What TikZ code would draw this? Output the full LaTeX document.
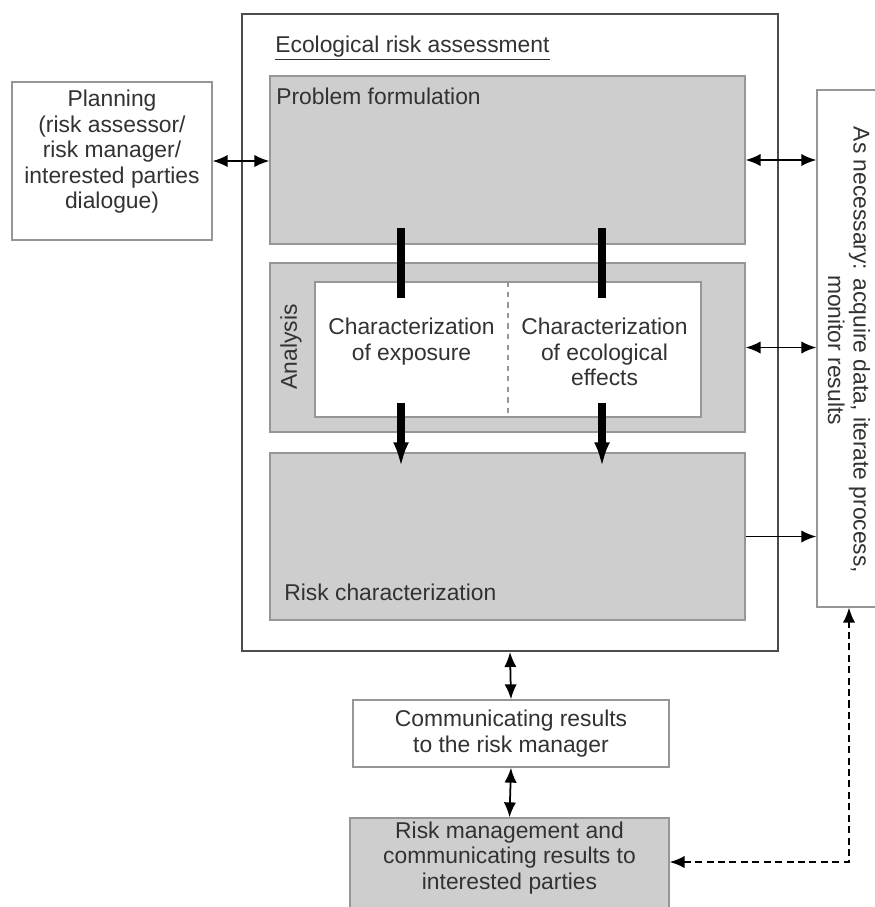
\documentclass[tikz,border=0pt]{standalone}
\usepackage{fontspec}
\setmainfont{Liberation Sans}
\usepackage{xcolor}
\usetikzlibrary{arrows.meta, calc, positioning}
\definecolor{boxgray}{RGB}{206,206,206}
\definecolor{edgegray}{RGB}{150,150,150}
\definecolor{inkgray}{RGB}{50,50,50}

\begin{document}
\begin{tikzpicture}[x=0.02cm,y=-0.02cm,
    every node/.style={font=\fontsize{13}{14.5}\selectfont,text=inkgray,inner sep=0pt},
    graybox/.style={draw=edgegray,fill=boxgray,line width=0.8pt},
    whitebox/.style={draw=edgegray,fill=white,line width=0.8pt},
    dbl/.style={{Latex[length=8.5pt,width=7pt]}-{Latex[length=8.5pt,width=7pt]},line width=1pt},
    sgl/.style={-{Latex[length=8.5pt,width=7pt]},line width=1pt},
    bar/.style={line width=4pt},
    bararrow/.style={-{Latex[length=14pt,width=9pt]},line width=4pt}]
    \useasboundingbox (0,0) rectangle (875,907);

    % outer frame and the three stages
    \node[draw=black!70,line width=1.3pt,minimum width=10.72cm,minimum height=12.74cm] (era) at (510,332.5) {};
    \node[anchor=base west] (eratitle) at (275,52) {\underline{Ecological risk assessment}};

    \node[graybox,minimum width=9.5cm,minimum height=3.36cm] (prob) at (507.5,160) {};
    \node[anchor=base west] (problbl) at (276,104) {Problem formulation};

    \node[graybox,minimum width=9.5cm,minimum height=3.38cm] (ana) at (507.5,347.5) {};
    \node[rotate=90] (analbl) at (291,347) {Analysis};
    \node[whitebox,minimum width=7.72cm,minimum height=2.7cm] (charbox) at (508,349.5) {};
    \draw[dashed,edgegray,line width=0.8pt] (charbox.north) -- (charbox.south);
    \node[anchor=north,align=center] (expo) at (411.5,318) {Characterization\\of exposure};
    \node[anchor=north,align=center] (effects) at (604.5,318) {Characterization\\of ecological\\effects};

    \node[graybox,minimum width=9.5cm,minimum height=3.34cm] (riskc) at (507.5,536.5) {};
    \node[anchor=base west] (riskclbl) at (284,600) {Risk characterization};

    % boxes outside the frame
    \node[whitebox,minimum width=4cm,minimum height=3.16cm] (plan) at (112,161) {};
    \node[align=center] (planlbl) at (112,152) {Planning\\(risk assessor/\\risk manager/\\interested parties\\dialogue)};

    \node[whitebox,minimum width=1.56cm,minimum height=10.34cm] (side) at (856,348.5) {};
    \node[rotate=-90,align=center] (sidelbl) at (849,350) {As necessary: acquire data, iterate process,\\monitor results};

    \node[whitebox,minimum width=6.32cm,minimum height=1.34cm,align=center] (comm) at (511,733.5) {Communicating results\\to the risk manager};

    \node[graybox,minimum width=6.38cm,minimum height=1.94cm] (mgmt) at (509.5,866.5) {};
    \node[align=center] (mgmtlbl) at (509.5,858) {Risk management and\\communicating results to\\interested parties};

    % thick bars and arrows through the analysis
    \coordinate (expotop) at (401,228);
    \coordinate (expoin) at (401,298);
    \coordinate (expoout) at (401,403);
    \coordinate (expotip) at (401,467);
    \coordinate (efftop) at (602,228);
    \coordinate (effin) at (602,298);
    \coordinate (effout) at (602,403);
    \coordinate (efftip) at (602,467);
    \draw[bar] (expotop) -- (expoin);
    \draw[bar] (efftop) -- (effin);
    \draw[bararrow] (expoout) -- (expotip);
    \draw[bararrow] (effout) -- (efftip);

    % connectors
    \draw[dbl] (plan.east) -- (plan.east -| prob.west);
    \draw[dbl] (prob.east) -- (prob.east -| side.west);
    \draw[dbl] (ana.east) -- (ana.east -| side.west);
    \draw[sgl] (riskc.east) -- (riskc.east -| side.west);
    \draw[dbl] (era.south) -- (comm.north);
    \draw[dbl] (comm.south) -- (mgmt.north);

    \coordinate (dcorner) at (849,862);
    \draw[dbl,dash pattern=on 4pt off 2.5pt] (dcorner -| mgmt.east) -- (dcorner) -- (dcorner |- side.south);
\end{tikzpicture}
\end{document}
